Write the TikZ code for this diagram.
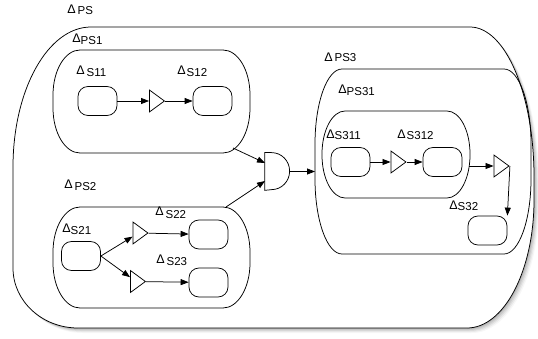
\documentclass[tikz,border=0pt]{standalone}
\usepackage{fontspec}
\setmainfont{Liberation Sans}
\usetikzlibrary{arrows.meta,shapes.geometric}

% delta marker in front of a label, text dropped a little
\newcommand{\dlab}[2][2pt]{{\fontsize{12.5}{13}\selectfont Δ}\raisebox{-#1}{#2}}

% container with elliptic corners: left, top, right, bottom, x radius, y radius
\newcommand{\procbox}[6]{%
  \draw (#1+#5,#2) -- (#3-#5,#2)
    arc[start angle=-90,end angle=0,x radius=#5,y radius=#6] -- (#3,#4-#6)
    arc[start angle=0,end angle=90,x radius=#5,y radius=#6] -- (#1+#5,#4)
    arc[start angle=90,end angle=180,x radius=#5,y radius=#6] -- (#1,#2+#6)
    arc[start angle=180,end angle=270,x radius=#5,y radius=#6] -- cycle;}

\newcommand{\outerpath}{(91,27) -- (470,27)
    arc[start angle=-90,end angle=0,x radius=64,y radius=150] -- (534,200)
    arc[start angle=0,end angle=90,x radius=67,y radius=128] -- (78,328)
    arc[start angle=90,end angle=180,x radius=65,y radius=60] -- (13,167)
    arc[start angle=180,end angle=270,x radius=78,y radius=140] -- cycle}

\tikzset{
  sbox/.style={draw, rounded corners=10pt, minimum width=39pt, minimum height=29pt, inner sep=0pt},
  gate/.style={draw, isosceles triangle, isosceles triangle stretches, minimum width=22pt, minimum height=15pt, inner sep=0pt},
  lbl/.style={anchor=base west, inner sep=0pt, font=\fontsize{11.5}{12}\selectfont},
  >={Triangle[length=8pt,width=6pt]}
}

\begin{document}
\begin{tikzpicture}[x=1pt,y=-1pt,line width=0.75pt]
\useasboundingbox (0,0) rectangle (538,339);

% outer PS with its shadow
\foreach \d/\o in {1/0.10,2/0.08,3/0.07,4/0.05,5/0.03}
  \fill[black,opacity=\o,shift={(\d,\d)}] \outerpath;
\fill[white] \outerpath;
\draw \outerpath;

\procbox{53}{50}{250}{153}{27}{45}   % PS1
\procbox{53}{207}{250}{308}{27}{45}  % PS2
\procbox{315}{69}{531}{254}{27}{75}  % PS3
\procbox{322}{111}{470}{198}{23}{43} % PS31

% labels
\node[lbl] (lps) at (67,14) {\dlab[0.5pt]{\,PS}};
\node[lbl] (lps1) at (72,43) {\dlab{PS1}};
\node[lbl] (ls11) at (76,75) {\dlab[1.5pt]{\,S11}};
\node[lbl] (ls12) at (177,75) {\dlab{\kern1pt S12}};
\node[lbl] (lps2) at (64,189) {\dlab[1.5pt]{\,PS2}};
\node[lbl] (ls21) at (62,233) {\dlab{S21}};
\node[lbl] (ls22) at (155,216) {\dlab[2.5pt]{\,S22}};
\node[lbl] (ls23) at (156,263) {\dlab[2.5pt]{\,S23}};
\node[lbl] (lps3) at (324,62) {\dlab[0pt]{\,PS3}};
\node[lbl] (lps31) at (338,94) {\dlab{PS31}};
\node[lbl] (ls311) at (326,139) {\dlab[1pt]{S311}};
\node[lbl] (ls312) at (397,139) {\dlab[1pt]{\kern1pt S312}};
\node[lbl] (ls32) at (449,210) {\dlab[1pt]{S32}};

% steps and gates
\node[sbox] (s11) at (97.5,101) {};
\node[gate] (g11) at (155,101) {};
\node[sbox] (s12) at (212.5,101) {};
\node[sbox] (s21) at (81,256) {};
\node[gate] (g22) at (138.5,233) {};
\node[gate] (g23) at (136,281.5) {};
\node[sbox] (s22) at (208.5,234.5) {};
\node[sbox] (s23) at (208.5,282.5) {};
\node[sbox] (s311) at (350.5,162) {};
\node[gate] (g31) at (396.5,162) {};
\node[sbox] (s312) at (442.5,162) {};
\node[gate] (g32) at (499.5,166) {};
\node[sbox] (s32) at (487.5,230.5) {};

% and gate
\node[minimum width=25pt, minimum height=37pt, inner sep=0pt] (andg) at (277.5,171.5) {};
\draw (andg.north west) -- ++(7,0)
  arc[start angle=-90,end angle=90,x radius=18,y radius=18.5] -- (andg.south west) -- cycle;

\coordinate (ps1out) at (233,148);
\coordinate (ps2out) at (226,207);
\coordinate (andin1) at (265,163);
\coordinate (andin2) at (265,181);
\coordinate (ps3in) at (315,171.5);
\coordinate (ps31out) at (469,166);

\draw[->] (s11) -- (g11);
\draw[->] (g11) -- (s12);
\draw[->] (s21.east) -- (g22);
\draw[->] (s21.east) -- (g23);
\draw[->] (g22) -- (s22);
\draw[->] (g23) -- (s23);
\draw[->] (s311) -- (g31);
\draw[->] (g31) -- (s312);
\draw[->] (ps31out) -- (g32);
\draw[->] (g32.apex) -- (s32.north east);
\draw[->] (ps1out) -- (andin1);
\draw[->] (ps2out) -- (andin2);
\draw[->] (andg.east) -- (ps3in);
\end{tikzpicture}
\end{document}
